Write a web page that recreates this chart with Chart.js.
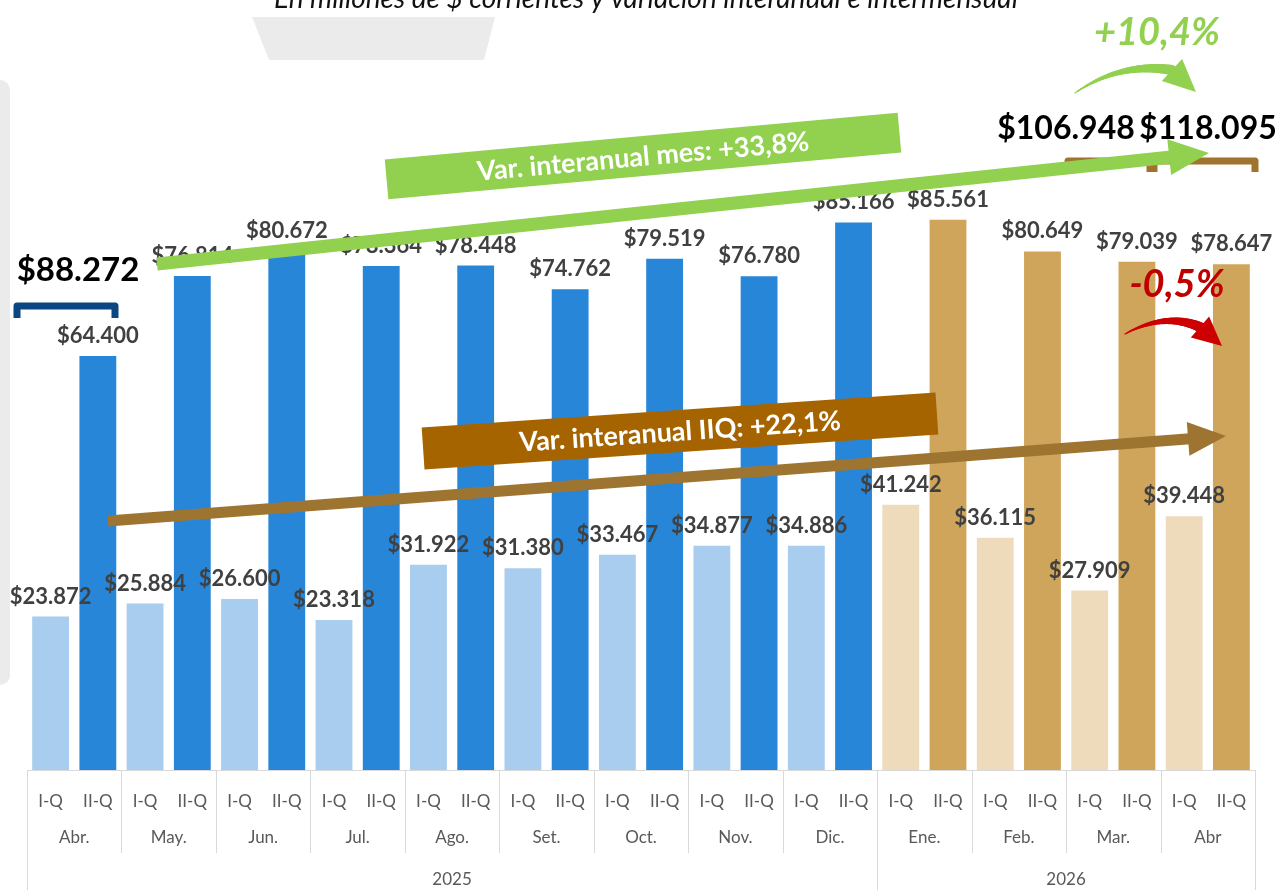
<!DOCTYPE html>
<html>
<head>
<meta charset="utf-8">
<script src="https://cdn.jsdelivr.net/npm/chart.js@4.4.1/dist/chart.umd.min.js"></script>
<style>
  html, body { margin: 0; padding: 0; background: #fff; }
  #wrap { width: 1277px; height: 890px; position: relative; overflow: hidden; }
</style>
</head>
<body>
<div id="wrap"><canvas id="myChart" width="1277" height="890"></canvas></div>
<script>
// datos (millones de $)
var meses = ['Abr.', 'May.', 'Jun.', 'Jul.', 'Ago.', 'Set.', 'Oct.', 'Nov.', 'Dic.', 'Ene.', 'Feb.', 'Mar.', 'Abr'];
var anios = ['2025', '2025', '2025', '2025', '2025', '2025', '2025', '2025', '2025', '2026', '2026', '2026', '2026'];
var quincenas = ['I-Q', 'II-Q'];
var primeraQ = [23872, 25884, 26600, 23318, 31922, 31380, 33467, 34877, 34886, 41242, 36115, 27909, 39448];
var segundaQ = [64400, 76814, 80672, 78364, 78448, 74762, 79519, 76780, 85166, 85561, 80649, 79039, 78647];

var colores = {
    '2025': ['#A9CDEE', '#2886D8'],
    '2026': ['#EDDBBC', '#CFA55B']
};

var FONT = 'Lato, "Open Sans", sans-serif';

// armar etiquetas / valores intercalados
var labels = [], valores = [], fondo = [];
meses.forEach(function(m, i) {
    labels.push(quincenas[0]); valores.push(primeraQ[i]); fondo.push(colores[anios[i]][0]);
    labels.push(quincenas[1]); valores.push(segundaQ[i]); fondo.push(colores[anios[i]][1]);
});

function fmt(v) {
    return '$' + v.toString().replace(/\B(?=(\d{3})+(?!\d))/g, '.');
}

function flecha(ctx, x1, y1, x2, y2, ancho, largoPunta, anchoPunta, color) {
    var ang = Math.atan2(y2 - y1, x2 - x1);
    var bx = x2 - Math.cos(ang) * largoPunta, by = y2 - Math.sin(ang) * largoPunta;
    ctx.save();
    ctx.strokeStyle = color; ctx.fillStyle = color;
    ctx.lineWidth = ancho; ctx.lineCap = 'butt';
    ctx.beginPath(); ctx.moveTo(x1, y1); ctx.lineTo(bx + Math.cos(ang) * 2, by + Math.sin(ang) * 2); ctx.stroke();
    ctx.beginPath();
    ctx.moveTo(x2, y2);
    ctx.lineTo(bx + Math.sin(ang) * anchoPunta / 2, by - Math.cos(ang) * anchoPunta / 2);
    ctx.lineTo(bx - Math.sin(ang) * anchoPunta / 2, by + Math.cos(ang) * anchoPunta / 2);
    ctx.closePath(); ctx.fill();
    ctx.restore();
}

// flecha curva que se engrosa hacia la punta
function flechaCurva(ctx, p0, pc, p1, punta, anchoPunta, color) {
    ctx.save();
    ctx.strokeStyle = color; ctx.fillStyle = color; ctx.lineCap = 'round';
    var n = 30, prev = p0;
    for (var k = 1; k <= n; k++) {
        var t = k / n;
        var x = (1 - t) * (1 - t) * p0[0] + 2 * (1 - t) * t * pc[0] + t * t * p1[0];
        var y = (1 - t) * (1 - t) * p0[1] + 2 * (1 - t) * t * pc[1] + t * t * p1[1];
        ctx.lineWidth = 1 + 9 * t;
        ctx.beginPath(); ctx.moveTo(prev[0], prev[1]); ctx.lineTo(x, y); ctx.stroke();
        prev = [x, y];
    }
    var dx = punta[0] - p1[0], dy = punta[1] - p1[1];
    var L = Math.sqrt(dx * dx + dy * dy);
    var nx = -dy / L, ny = dx / L;
    ctx.beginPath();
    ctx.moveTo(punta[0], punta[1]);
    ctx.lineTo(p1[0] + nx * anchoPunta / 2, p1[1] + ny * anchoPunta / 2);
    ctx.lineTo(p1[0] - nx * anchoPunta / 2, p1[1] - ny * anchoPunta / 2);
    ctx.closePath(); ctx.fill();
    ctx.restore();
}

function banda(ctx, cx, cy, w, h, ang, color, texto) {
    ctx.save();
    ctx.translate(cx, cy); ctx.rotate(ang);
    ctx.fillStyle = color;
    ctx.fillRect(-w / 2, -h / 2, w, h);
    ctx.fillStyle = '#fff';
    ctx.font = 'bold 27px ' + FONT;
    ctx.textAlign = 'center'; ctx.textBaseline = 'middle';
    ctx.fillText(texto, 0, 1);
    ctx.restore();
}

function llave(ctx, x1, x2, y, alto, color) {
    ctx.save();
    ctx.strokeStyle = color; ctx.lineWidth = 7; ctx.lineJoin = 'round';
    ctx.beginPath();
    ctx.moveTo(x1, y + alto); ctx.lineTo(x1, y); ctx.lineTo(x2, y); ctx.lineTo(x2, y + alto);
    ctx.stroke();
    ctx.restore();
}

var fondoPlugin = {
    id: 'fondo',
    beforeDraw: function(chart) {
        var ctx = chart.ctx;
        ctx.save();
        ctx.fillStyle = '#EBEBEB';
        // panel gris a la izquierda
        ctx.beginPath();
        ctx.roundRect(-20, 80, 30, 605, 10);
        ctx.fill();
        // trapecio gris arriba
        ctx.beginPath();
        ctx.moveTo(252, 17); ctx.lineTo(495, 17); ctx.lineTo(484, 60); ctx.lineTo(269, 60);
        ctx.closePath(); ctx.fill();
        // subtítulo (cortado arriba)
        ctx.fillStyle = '#111';
        ctx.font = 'italic 28px ' + FONT;
        ctx.textAlign = 'center'; ctx.textBaseline = 'alphabetic';
        ctx.fillText('En millones de $ corrientes y variación interanual e intermensual', 646, 8);
        ctx.restore();
    }
};

var ejePlugin = {
    id: 'ejeMultinivel',
    afterDraw: function(chart) {
        var ctx = chart.ctx, x = chart.scales.x, area = chart.chartArea;
        var paso = x.getPixelForValue(1) - x.getPixelForValue(0);
        var base = area.bottom;
        ctx.save();
        ctx.strokeStyle = '#D9D9D9'; ctx.lineWidth = 1;
        ctx.beginPath(); ctx.moveTo(area.left, base + 0.5); ctx.lineTo(area.right, base + 0.5); ctx.stroke();
        ctx.fillStyle = '#595959';
        ctx.font = '17px ' + FONT;
        ctx.textAlign = 'center'; ctx.textBaseline = 'middle';
        for (var i = 0; i <= meses.length; i++) {
            var xb = Math.round(x.getPixelForValue(2 * i) - paso / 2) + 0.5;
            var esAnio = (i === 0 || i === meses.length || anios[i] !== anios[i - 1]);
            ctx.beginPath(); ctx.moveTo(xb, base); ctx.lineTo(xb, esAnio ? 890 : 853); ctx.stroke();
            if (i < meses.length) {
                var xc = (x.getPixelForValue(2 * i) + x.getPixelForValue(2 * i + 1)) / 2;
                ctx.fillText(meses[i], xc, 838);
            }
        }
        // años
        var grupos = {};
        anios.forEach(function(a, i) {
            if (!grupos[a]) grupos[a] = [i, i];
            grupos[a][1] = i;
        });
        Object.keys(grupos).forEach(function(a) {
            var x0 = x.getPixelForValue(2 * grupos[a][0]) - paso / 2;
            var x1 = x.getPixelForValue(2 * grupos[a][1] + 1) + paso / 2;
            ctx.fillText(a, (x0 + x1) / 2, 880);
        });
        ctx.restore();
    }
};

var etiquetasPlugin = {
    id: 'etiquetas',
    afterDatasetsDraw: function(chart) {
        var ctx = chart.ctx;
        var meta = chart.getDatasetMeta(0);
        ctx.save();
        ctx.fillStyle = '#404040';
        ctx.font = 'bold 22px ' + FONT;
        ctx.textAlign = 'center'; ctx.textBaseline = 'alphabetic';
        meta.data.forEach(function(bar, i) {
            ctx.fillText(fmt(valores[i]), bar.x, bar.y - 13);
        });
        ctx.restore();
    }
};

var anotaciones = {
    id: 'anotaciones',
    afterDatasetsDraw: function(chart) {
        var ctx = chart.ctx;
        // bandas y flechas rectas
        banda(ctx, 643, 156, 515, 40, -0.091, '#92D050', 'Var. interanual mes: +33,8%');
        banda(ctx, 680, 431, 515, 42, -0.068, '#A66400', 'Var. interanual IIQ: +22,1%');
        flecha(ctx, 108, 521, 1226, 436, 11, 38, 34, '#9E7431');

        // llaves
        llave(ctx, 17, 115, 306, 12, '#0B4582');
        llave(ctx, 1068, 1154, 161, 11, '#A0732E');
        llave(ctx, 1150, 1255, 161, 11, '#A0732E');

        flecha(ctx, 157, 264, 1209, 153, 13, 40, 36, '#92D050');

        // totales
        ctx.save();
        ctx.fillStyle = '#000';
        ctx.textAlign = 'center'; ctx.textBaseline = 'alphabetic';
        ctx.font = 'bold 33px ' + FONT;
        ctx.fillText('$88.272', 78, 281);
        ctx.font = 'bold 32px ' + FONT;
        ctx.fillText('$106.948', 1066, 139);
        ctx.fillText('$118.095', 1208, 139);

        // variaciones intermensuales
        ctx.font = 'italic bold 38px ' + FONT;
        ctx.fillStyle = '#92D050';
        ctx.fillText('+10,4%', 1157, 45);
        ctx.fillStyle = '#C00000';
        ctx.fillText('-0,5%', 1177, 297);
        ctx.restore();

        flechaCurva(ctx, [1075, 93], [1120, 62], [1172, 70], [1196, 92], 30, '#92D050');
        flechaCurva(ctx, [1125, 334], [1165, 312], [1200, 327], [1222, 346], 28, '#CC0000');
    }
};

document.addEventListener('DOMContentLoaded', function() {
    var ctx = document.getElementById('myChart').getContext('2d');

    var myChart = new Chart(ctx, {
        type: 'bar',
        data: {
            labels: labels,
            datasets: [{
                data: valores,
                backgroundColor: fondo,
                borderWidth: 0,
                barPercentage: 0.78,
                categoryPercentage: 1.0
            }]
        },
        options: {
            responsive: false,
            devicePixelRatio: 1,
            animation: false,
            layout: { padding: { left: 27, right: 22, top: 0, bottom: 0 } },
            plugins: {
                legend: { display: false },
                tooltip: { enabled: false }
            },
            scales: {
                x: {
                    grid: { display: false, drawTicks: false },
                    border: { display: false },
                    ticks: {
                        color: '#595959',
                        font: { family: FONT, size: 17 },
                        padding: 21,
                        maxRotation: 0,
                        autoSkip: false
                    },
                    afterFit: function(scale) { scale.height = 120; }
                },
                y: {
                    display: false,
                    min: 0,
                    max: 119750
                }
            }
        },
        plugins: [fondoPlugin, etiquetasPlugin, anotaciones, ejePlugin]
    });
});
</script>
</body>
</html>
